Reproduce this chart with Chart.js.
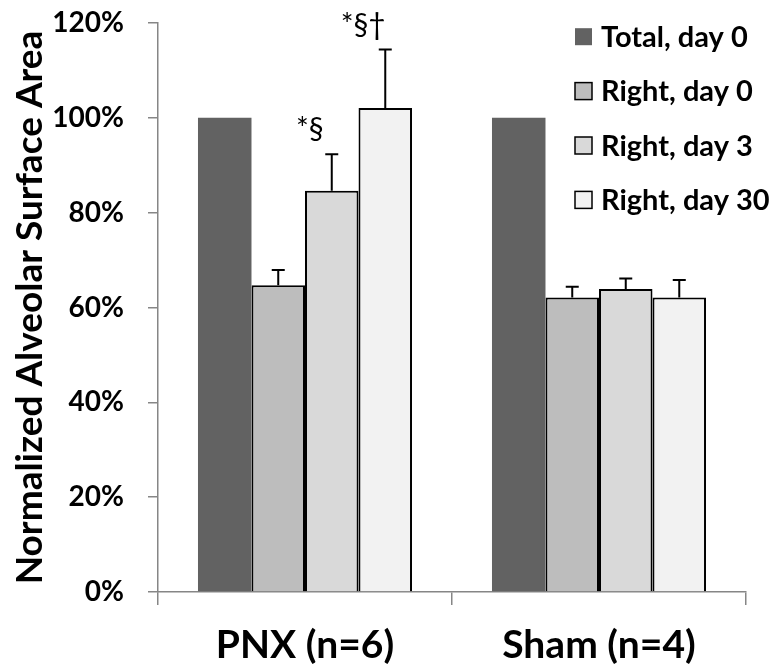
<!DOCTYPE html>
<html>
<head>
<meta charset="utf-8">
<script src="https://cdn.jsdelivr.net/npm/chart.js@4/dist/chart.umd.min.js"></script>
<style>
  html, body { margin: 0; padding: 0; background: #ffffff; }
  #wrap { width: 775px; height: 667px; position: relative; }
</style>
</head>
<body>
<div id="wrap"><canvas id="chart"></canvas></div>
<script>
// Groups on the x axis
const categories = ['PNX (n=6)', 'Sham (n=4)'];

// Series names
const seriesNames = ['Total, day 0', 'Right, day 0', 'Right, day 3', 'Right, day 30'];

// Mean normalized alveolar surface area (%)
const totalDay0 = [100, 100];
const rightDay0 = [64.7, 62.1];
const rightDay3 = [84.6, 63.9];
const rightDay30 = [102.1, 62.1];

// Error bar heights (%), null where no error bar is shown
const totalDay0Err = [null, null];
const rightDay0Err = [3.2, 2.3];
const rightDay3Err = [7.7, 2.2];
const rightDay30Err = [12.3, 3.7];

// Significance marks above the error bars
const totalDay0Marks = ['', ''];
const rightDay0Marks = ['', ''];
const rightDay3Marks = ['*§', ''];
const rightDay30Marks = ['*§†', ''];

// Y axis ticks (%)
const yTicks = [0, 20, 40, 60, 80, 100, 120];

const fills = ['#626262', '#bdbdbd', '#d9d9d9', '#f2f2f2'];
const borders = [0, 2, 2, 2];
const FONT = 'Lato, "Open Sans", sans-serif';

const seriesValues = [totalDay0, rightDay0, rightDay3, rightDay30];
const seriesErr = [totalDay0Err, rightDay0Err, rightDay3Err, rightDay30Err];
const seriesMarks = [totalDay0Marks, rightDay0Marks, rightDay3Marks, rightDay30Marks];

const datasets = seriesNames.map((name, i) => ({
  label: name,
  data: seriesValues[i],
  errors: seriesErr[i],
  marks: seriesMarks[i],
  backgroundColor: fills[i],
  borderColor: '#000000',
  borderWidth: borders[i],
  borderSkipped: 'bottom',
  categoryPercentage: 0.728,
  barPercentage: 1.0
}));

// Draws the error whiskers and the significance marks above them
const errorBars = {
  id: 'errorBars',
  afterDatasetsDraw(chart) {
    const ctx = chart.ctx;
    const y = chart.scales.y;
    ctx.save();
    chart.data.datasets.forEach((ds, i) => {
      const meta = chart.getDatasetMeta(i);
      meta.data.forEach((bar, j) => {
        const e = ds.errors[j];
        if (e == null) return;
        const v = ds.data[j];
        const yTop = y.getPixelForValue(v + e);
        ctx.strokeStyle = '#000000';
        ctx.lineWidth = 2;
        ctx.beginPath();
        ctx.moveTo(bar.x, bar.y);
        ctx.lineTo(bar.x, yTop);
        ctx.moveTo(bar.x - 6.5, yTop);
        ctx.lineTo(bar.x + 6.5, yTop);
        ctx.stroke();
        const mark = ds.marks[j];
        if (mark) {
          ctx.fillStyle = '#000000';
          ctx.font = '30px ' + FONT;
          ctx.textAlign = 'center';
          ctx.textBaseline = 'alphabetic';
          ctx.fillText(mark, bar.x - 22, yTop - 15);
        }
      });
    });
    ctx.restore();
  }
};

// Legend drawn inside the plot area, upper right
const insideLegend = {
  id: 'insideLegend',
  afterDraw(chart) {
    const ctx = chart.ctx;
    ctx.save();
    const x0 = 575, y0 = 36.7, step = 54.4, box = 17;
    chart.data.datasets.forEach((ds, i) => {
      const cy = y0 + i * step;
      ctx.fillStyle = ds.backgroundColor;
      ctx.fillRect(x0, cy - box / 2, box, box);
      if (ds.borderWidth) {
        ctx.strokeStyle = '#000000';
        ctx.lineWidth = 1.5;
        ctx.strokeRect(x0, cy - box / 2, box, box);
      }
      ctx.fillStyle = '#000000';
      ctx.font = 'bold 29px ' + FONT;
      ctx.textAlign = 'left';
      ctx.textBaseline = 'middle';
      ctx.fillText(ds.label, x0 + 26, cy + 1);
    });
    ctx.restore();
  }
};

new Chart(document.getElementById('chart'), {
  type: 'bar',
  data: { labels: categories, datasets },
  plugins: [errorBars, insideLegend],
  options: {
    responsive: true,
    maintainAspectRatio: false,
    animation: false,
    layout: { padding: { left: 8, right: 29, top: 23, bottom: 0 } },
    plugins: { legend: { display: false }, tooltip: { enabled: false } },
    scales: {
      x: {
        offset: true,
        border: { display: true, color: '#868686', width: 1.5 },
        grid: { display: true, offset: true, drawOnChartArea: false, drawTicks: true, tickLength: 13, color: '#868686', lineWidth: 1.5 },
        ticks: { color: '#000000', font: { family: FONT, size: 39, weight: 'bold' }, padding: 17 },
        afterFit(scale) { scale.height = 75; }
      },
      y: {
        min: 0,
        max: 120,
        afterBuildTicks(scale) { scale.ticks = yTicks.map(v => ({ value: v })); },
        border: { display: true, color: '#868686', width: 1.5 },
        grid: { display: true, drawOnChartArea: false, drawTicks: true, tickLength: 10, color: '#868686', lineWidth: 1.5 },
        ticks: {
          color: '#000000',
          font: { family: FONT, size: 28, weight: 'bold' },
          padding: 24,
          callback: v => v + '%'
        },
        title: {
          display: true,
          text: 'Normalized Alveolar Surface Area',
          color: '#000000',
          font: { family: FONT, size: 37, weight: 'bold' },
          padding: { top: 0, bottom: 0 }
        },
        afterFit(scale) {
          scale.width = 150;
          // tick labels may overhang the plot edges
          scale.paddingTop = 0;
          scale.paddingBottom = 0;
        }
      }
    }
  }
});
</script>
</body>
</html>
